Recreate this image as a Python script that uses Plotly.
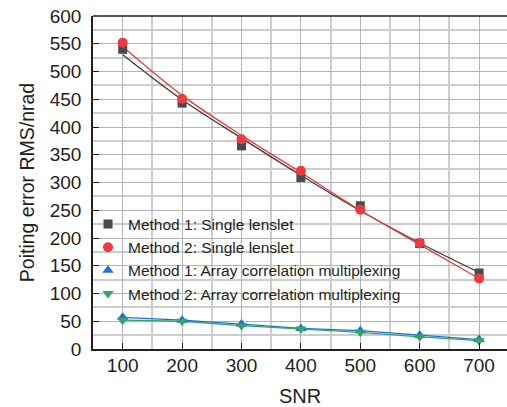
import plotly.graph_objects as go

snr = [100, 200, 300, 400, 500, 600, 700]
m1_single = [540, 443, 366, 309, 258, 190, 137]
m2_single = [552, 451, 378, 321, 251, 191, 127]
m1_single_fit = [530, 449, 380, 313, 249, 191, 138]
m2_single_fit = [545, 457, 385, 318, 250, 188, 127]
m1_array = [57, 52, 45, 37, 33, 25, 17]
m2_array = [52, 50, 42, 36, 30, 22, 15]

names = ["Method 1: Single lenslet", "Method 2: Single lenslet",
         "Method 1: Array correlation multiplexing", "Method 2: Array correlation multiplexing"]

c_black = "#4a4a4a"
c_red = "#ef3b3f"
c_blue = "#1c6fe3"
c_green = "#2fa66a"
txt = "#231f20"

fig = go.Figure()
fig.add_trace(go.Scatter(x=snr, y=m1_single_fit, mode="lines", line=dict(color="#3c3c3c", width=1.3, shape="spline"), showlegend=False, hoverinfo="skip"))
fig.add_trace(go.Scatter(x=snr, y=m2_single_fit, mode="lines", line=dict(color=c_red, width=1.3, shape="spline"), showlegend=False, hoverinfo="skip"))
fig.add_trace(go.Scatter(x=snr, y=m1_array, mode="lines", line=dict(color=c_blue, width=1.3), showlegend=False, hoverinfo="skip"))
fig.add_trace(go.Scatter(x=snr, y=m2_array, mode="lines", line=dict(color=c_green, width=1.3), showlegend=False, hoverinfo="skip"))

fig.add_trace(go.Scatter(x=snr, y=m1_single, mode="markers", name=names[0], marker=dict(symbol="square", size=9, color=c_black)))
fig.add_trace(go.Scatter(x=snr, y=m2_single, mode="markers", name=names[1], marker=dict(symbol="circle", size=10, color=c_red)))
fig.add_trace(go.Scatter(x=snr, y=m1_array, mode="markers", name=names[2], marker=dict(symbol="triangle-up", size=10, color=c_blue)))
fig.add_trace(go.Scatter(x=snr, y=m2_array, mode="markers", name=names[3], marker=dict(symbol="triangle-down", size=10, color=c_green)))

fig.update_layout(
    width=507, height=407,
    margin=dict(l=93, r=0, t=16, b=58),
    paper_bgcolor="white", plot_bgcolor="white",
    font=dict(family="Liberation Sans, Arial, sans-serif", color=txt, size=19),
    legend=dict(x=-0.012, y=0.425, xanchor="left", yanchor="top",
                bgcolor="rgba(0,0,0,0)", borderwidth=0,
                font=dict(size=15.5, color=txt), tracegroupgap=0,
                itemwidth=30),
    shapes=[
        dict(type="rect", xref="paper", yref="paper", x0=0.046, x1=0.52, y0=0.285, y1=0.42,
             fillcolor="white", line=dict(width=0), layer="between"),
        dict(type="rect", xref="paper", yref="paper", x0=0.046, x1=0.773, y0=0.155, y1=0.285,
             fillcolor="white", line=dict(width=0), layer="between"),
        dict(type="line", xref="paper", yref="paper", x0=0, x1=1, y0=1, y1=1,
             line=dict(color=txt, width=1.5)),
    ],
)
fig.update_xaxes(
    range=[50, 747], tickmode="linear", tick0=0, dtick=100,
    ticks="inside", ticklen=6, tickcolor=txt, tickwidth=1.3,
    showline=True, linecolor=txt, linewidth=1.5, mirror=False,
    showgrid=True, gridcolor="#b4b4b4", gridwidth=1,
    minor=dict(dtick=50, tick0=0, showgrid=True, gridcolor="#cdcdcd", gridwidth=1.5),
    zeroline=False, automargin=False,
    title=dict(text="SNR", font=dict(size=20), standoff=23),
    tickfont=dict(size=19),
    ticklabelstandoff=-2,
    ticklabeloverflow="allow",
)
fig.update_yaxes(
    range=[0, 600], tickmode="linear", tick0=0, dtick=50,
    ticks="inside", ticklen=6, tickcolor=txt, tickwidth=1.3,
    showline=True, linecolor=txt, linewidth=1.5,
    showgrid=True, gridcolor="#b4b4b4", gridwidth=1,
    minor=dict(dtick=25, tick0=0, showgrid=True, gridcolor="#cdcdcd", gridwidth=1.5),
    zeroline=False, automargin=False,
    title=dict(text="Poiting error RMS/nrad", font=dict(size=19.5), standoff=10),
    tickfont=dict(size=19),
    ticklabelstandoff=6,
    ticklabeloverflow="allow",
)

fig.write_html("out.html", config={"displayModeBar": False},
               post_script="document.body.style.margin='0';")
